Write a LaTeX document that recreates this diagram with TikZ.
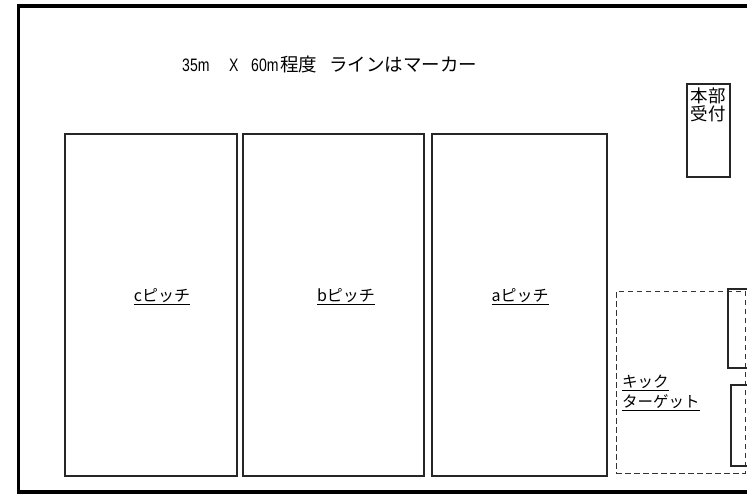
\documentclass[tikz,border=0pt]{standalone}
\usepackage{fontspec}
\usepackage{graphicx}
\setmainfont{Noto Sans CJK JP}
\newfontfamily\lat{Liberation Sans}
\newcommand\hwtxt[1]{\scalebox{0.78}[1]{\lat\fontsize{18}{20}\selectfont #1}}
\begin{document}
\begin{tikzpicture}[x=1pt,y=-1pt,
  box/.style={draw=black!85, line width=1.1pt, inner sep=0, fill=none},
  dbox/.style={draw=black!80, line width=1pt, dash pattern=on 5.5pt off 3.5pt, inner sep=0},
  lbl/.style={inner sep=0, font=\fontsize{16}{20}\selectfont},
  frame/.style={draw=black, line width=3.5pt}]
\useasboundingbox (0,0) rectangle (747,495);
\begin{scope}
\clip (0,0) rectangle (747,495);
\draw[frame] (18.5,6) rectangle (800,492);
% pitches
\node[box, minimum width=172, minimum height=342] (pc) at (151,305) {};
\node[box, minimum width=181, minimum height=342] (pb) at (333.5,305) {};
\node[box, minimum width=175, minimum height=342] (pa) at (519.5,305) {};
% headquarters
\node[box, minimum width=43, minimum height=93] (hqbox) at (708.5,130.5) {};
% kick target area
\node[dbox, minimum width=129, minimum height=182] (kbox) at (680.5,382) {};
\node[box, minimum width=100, minimum height=79] (r1) at (778,328.5) {};
\node[box, minimum width=100, minimum height=81] (r2) at (781,425.5) {};
\end{scope}
% texts
\node[anchor=base west, inner sep=0, font=\fontsize{18.5}{20}\selectfont] (title) at (182,71)
  {\makebox[47pt][l]{\hwtxt{35m}}\makebox[22pt][l]{\hwtxt{X}}\makebox[29pt][l]{\hwtxt{60m}}程度\hspace{12pt}ラインはマーカー};
\node[anchor=north west, align=left, inner sep=0, font=\fontsize{17.5}{18.5}\selectfont] (hq) at (690.5,87.5) {本部\\受付};
\node[lbl] (lc) at (162,297) {\underline{cピッチ}};
\node[lbl] (lb) at (346,297) {\underline{bピッチ}};
\node[lbl] (la) at (520,297) {\underline{aピッチ}};
\node[anchor=west, align=left, inner sep=0, font=\fontsize{15.5}{20}\selectfont] (kt) at (622,393) {\underline{キック}\\\underline{ターゲット}};
\end{tikzpicture}
\end{document}
